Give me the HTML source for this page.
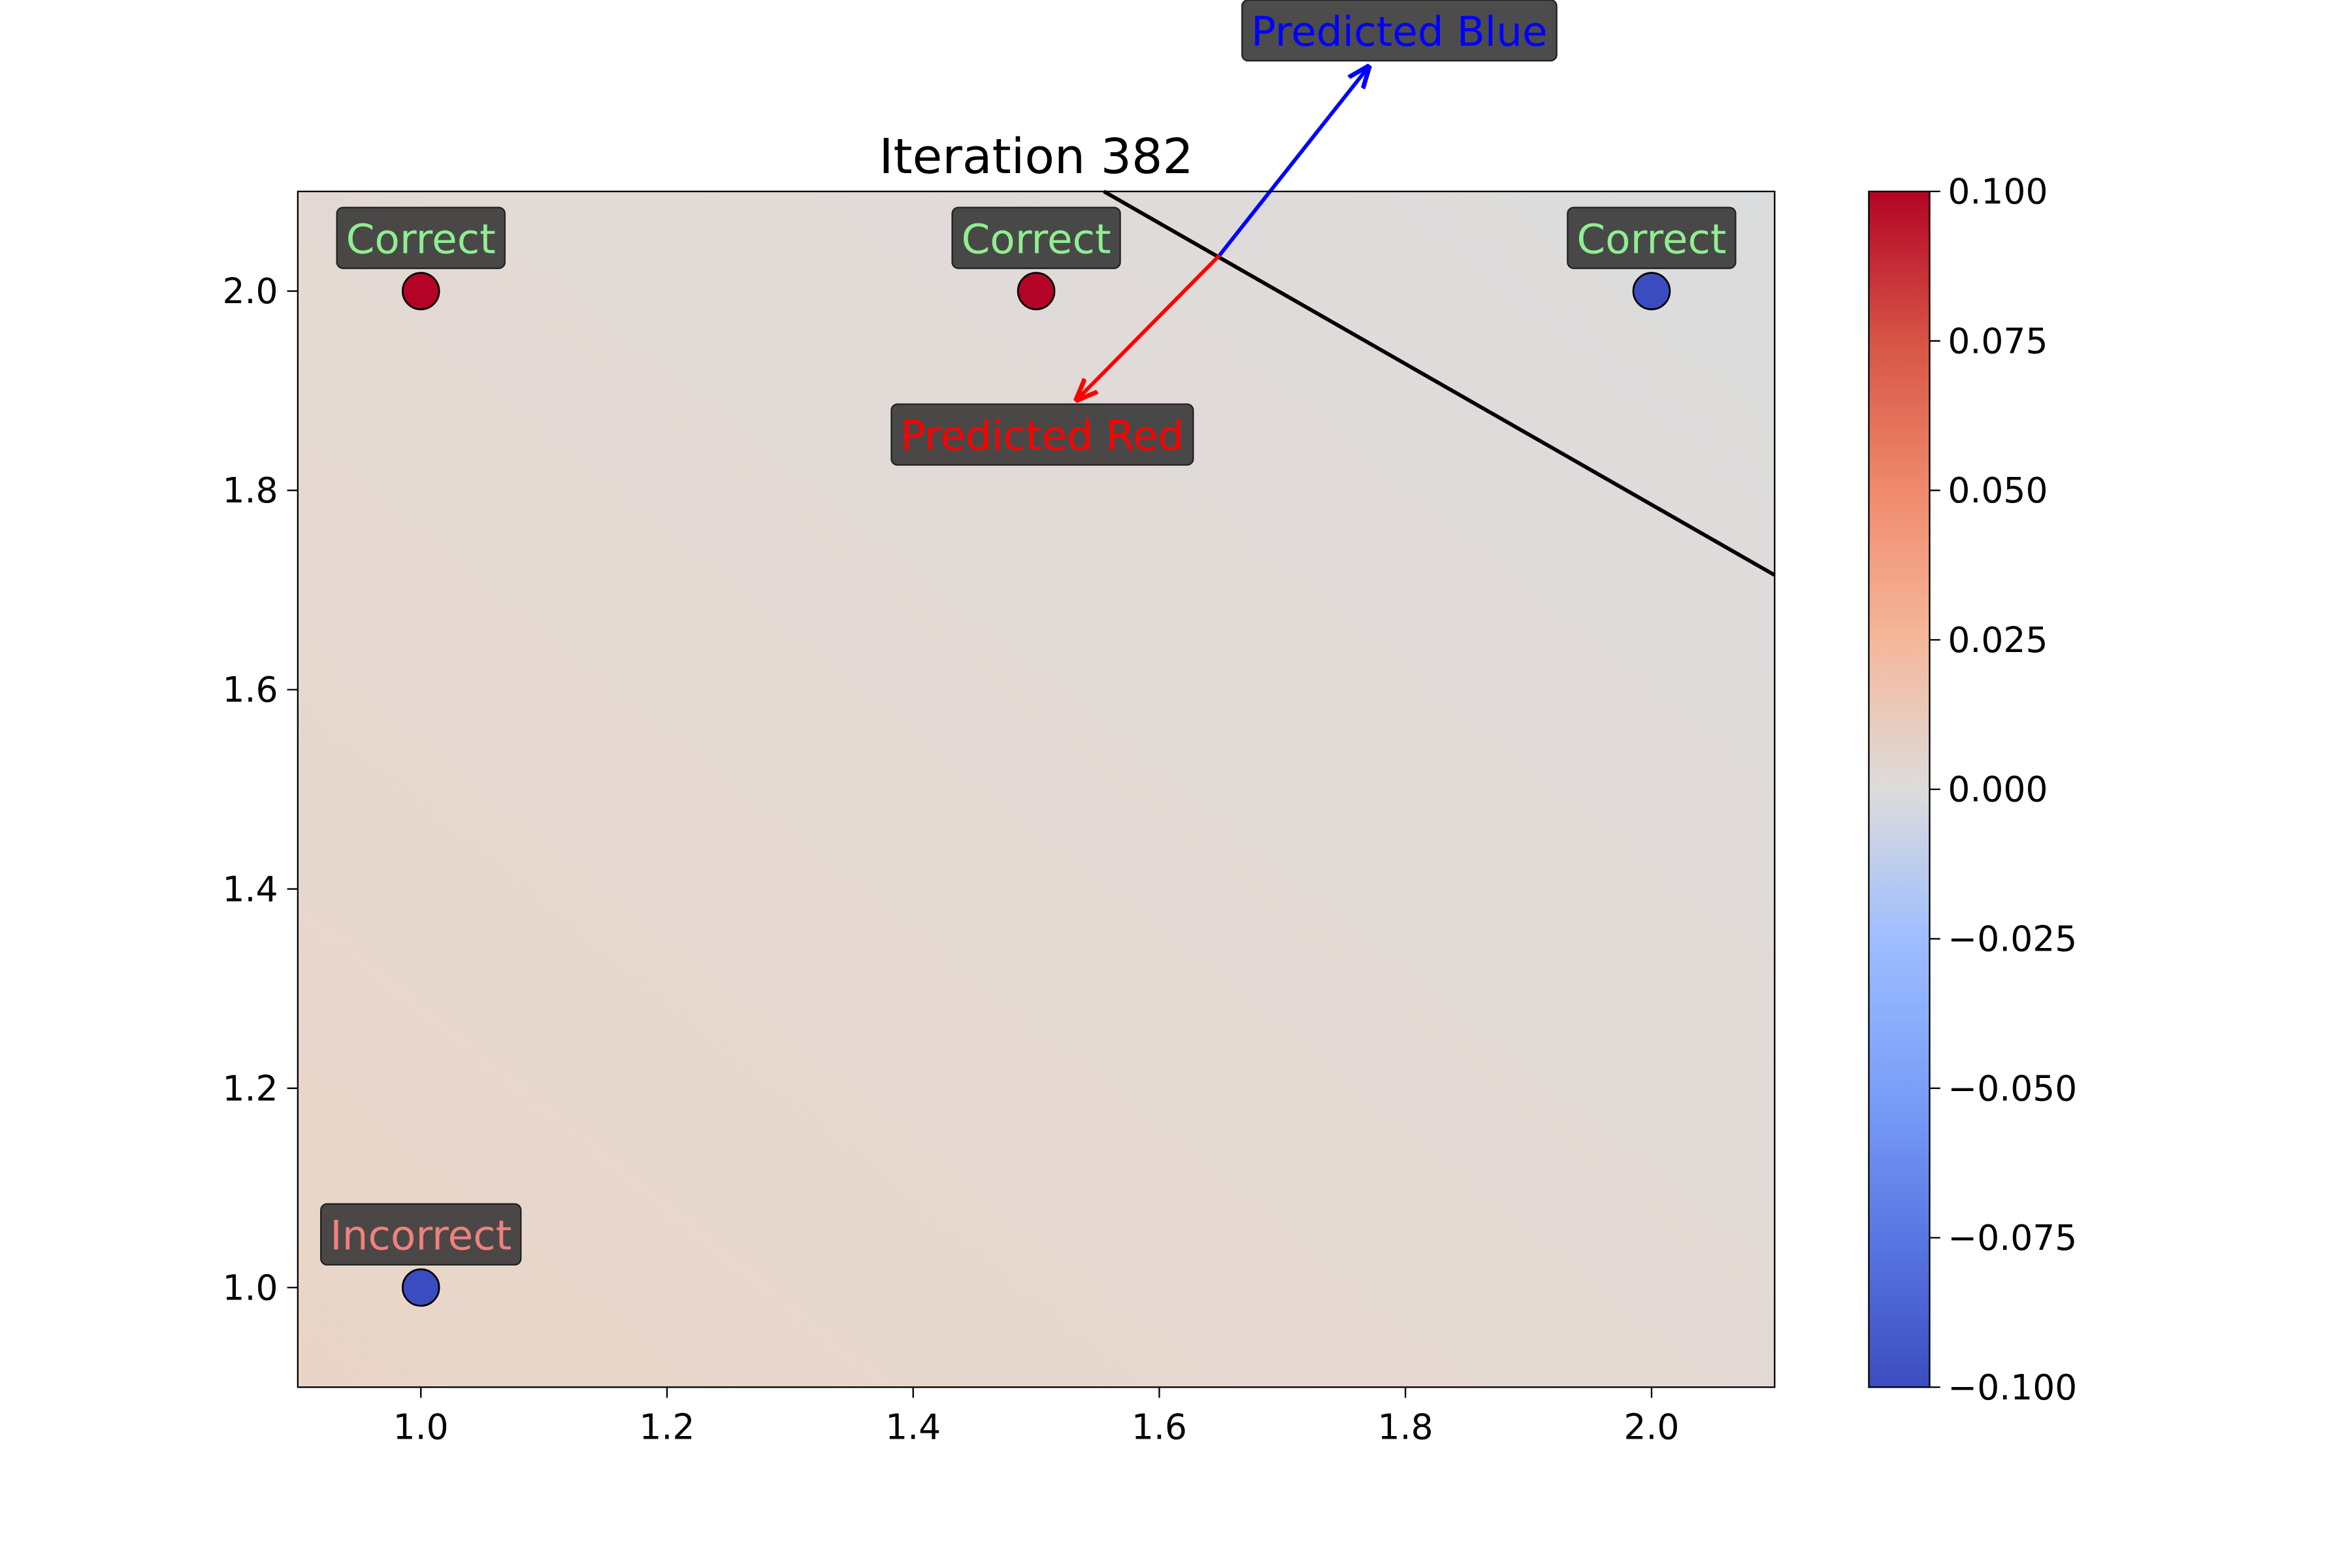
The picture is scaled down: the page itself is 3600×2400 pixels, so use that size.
<!DOCTYPE html>
<html><head><meta charset="utf-8"><style>
html,body{margin:0;padding:0;background:#fff;}
svg{display:block;font-family:"DejaVu Sans","Liberation Sans",sans-serif;}
</style></head><body>
<svg id="chart" width="3600" height="2400" viewBox="0 0 1548 1032" xmlns="http://www.w3.org/2000/svg">
<defs>
<linearGradient id="bg" x1="0" y1="1" x2="1" y2="0">
<stop offset="0" stop-color="#e9d5c8"/><stop offset="0.6" stop-color="#e2dad6"/><stop offset="1" stop-color="#dbdcdd"/>
</linearGradient>
<linearGradient id="cw" x1="0" y1="1" x2="0" y2="0">
<stop offset="0" stop-color="#3b4cc0"/><stop offset="0.125" stop-color="#5977e3"/><stop offset="0.25" stop-color="#7b9ff9"/><stop offset="0.375" stop-color="#9ebeff"/><stop offset="0.5" stop-color="#dddcdc"/><stop offset="0.625" stop-color="#f6b79b"/><stop offset="0.75" stop-color="#ef8a6d"/><stop offset="0.875" stop-color="#d75445"/><stop offset="1" stop-color="#b40426"/>
</linearGradient>
<marker id="ab" viewBox="0 0 10 10" refX="9" refY="5" markerWidth="6" markerHeight="6" orient="auto"><path d="M0,1 L10,5 L0,9" fill="none" stroke="blue" stroke-width="2"/></marker>
<marker id="ar" viewBox="0 0 10 10" refX="9" refY="5" markerWidth="6" markerHeight="6" orient="auto"><path d="M0,1 L10,5 L0,9" fill="none" stroke="red" stroke-width="2"/></marker>
</defs>
<rect x="196" y="126" width="972" height="787" fill="url(#bg)"/>
<g id="marks"></g>
<rect x="196" y="126" width="972" height="787" fill="none" stroke="#000" stroke-width="1"/>
<text x="682" y="114" font-size="32" text-anchor="middle">Iteration 382</text>
<rect x="1230" y="126" width="40" height="787" fill="url(#cw)" stroke="#000" stroke-width="1"/>
<g id="axes"></g>
</svg>
<script>
const xTicks=[1.0,1.2,1.4,1.6,1.8,2.0];
const yTicks=[1.0,1.2,1.4,1.6,1.8,2.0];
const cbTicks=[-0.1,-0.075,-0.05,-0.025,0,0.025,0.05,0.075,0.1];
const ptX=[1.0,1.5,2.0,1.0];
const ptY=[2.0,2.0,2.0,1.0];
const ptClass=["red","red","blue","blue"];
const ptLabel=["Correct","Correct","Correct","Incorrect"];
const boundaryX=[1.555,2.1];
const boundaryY=[2.1,1.715];
const arrowOrigin=[1.649,2.036];
const arrowBlue=[1.770,2.225];
const arrowRed=[1.533,1.891];
const NS="http://www.w3.org/2000/svg";
const X=v=>196+(v-0.9)/1.2*972, Y=v=>913-(v-0.9)/1.2*787, C=v=>913-(v+0.1)/0.2*787;
function mk(p,t,a){const e=document.createElementNS(NS,t);for(const k in a)e.setAttribute(k,a[k]);p.appendChild(e);return e;}
const ax=document.getElementById('axes'), mg=document.getElementById('marks');
xTicks.forEach(v=>{const t=mk(ax,'line',{x1:X(v),x2:X(v),y1:913,y2:920,stroke:'#000'});

const l=mk(ax,'text',{x:X(v),y:947,'font-size':23,'text-anchor':'middle'});l.textContent=v.toFixed(1);
});
yTicks.forEach(v=>{const t=mk(ax,'line',{x1:189,x2:196,y1:Y(v),y2:Y(v),stroke:'#000'});

const l=mk(ax,'text',{x:183,y:Y(v)+8,'font-size':23,'text-anchor':'end'});l.textContent=v.toFixed(1);
});
cbTicks.forEach(v=>{const t=mk(ax,'line',{x1:1270,x2:1277,y1:C(v),y2:C(v),stroke:'#000'});

const l=mk(ax,'text',{x:1282,y:C(v)+8,'font-size':23});l.textContent=(v<0?'\u2212':'')+Math.abs(v).toFixed(3);
});
const bl=mk(mg,'line',{x1:X(boundaryX[0]),y1:Y(boundaryY[0]),x2:X(boundaryX[1]),y2:Y(boundaryY[1]),stroke:'#000','stroke-width':2.5});

const a1=mk(mg,'line',{x1:X(arrowOrigin[0]),y1:Y(arrowOrigin[1]),x2:X(arrowBlue[0]),y2:Y(arrowBlue[1]),stroke:'blue','stroke-width':2.5,'marker-end':'url(#ab)'});

const a2=mk(mg,'line',{x1:X(arrowOrigin[0]),y1:Y(arrowOrigin[1]),x2:X(arrowRed[0]),y2:Y(arrowRed[1]),stroke:'red','stroke-width':2.5,'marker-end':'url(#ar)'});

function label(cx,cy,txt,col,name){
const r=mk(mg,'rect',{rx:4,fill:'#333','fill-opacity':0.88,stroke:'#222'});

const t=mk(mg,'text',{x:cx,y:cy+10,'font-size':27,'text-anchor':'middle',fill:col});t.textContent=txt;

let w=txt.length*14.8;try{const L=t.getComputedTextLength();if(L>0)w=L;}catch(e){}
w+=12;r.setAttribute('x',cx-w/2);r.setAttribute('y',cy-20);r.setAttribute('width',w);r.setAttribute('height',40);}
label(921,20,'Predicted Blue','blue','predicted-blue-label');
label(686,286,'Predicted Red','red','predicted-red-label');
ptX.forEach((x,i)=>{const c=mk(mg,'circle',{cx:X(x),cy:Y(ptY[i]),r:12,fill:ptClass[i]==='red'?'#b40426':'#3b4cc0',stroke:'#000','stroke-width':1.2});

label(X(x),Y(ptY[i])-35,ptLabel[i],ptLabel[i]==='Correct'?'#90ee90':'#f08080','point-status-label');});
</script>
</body></html>
